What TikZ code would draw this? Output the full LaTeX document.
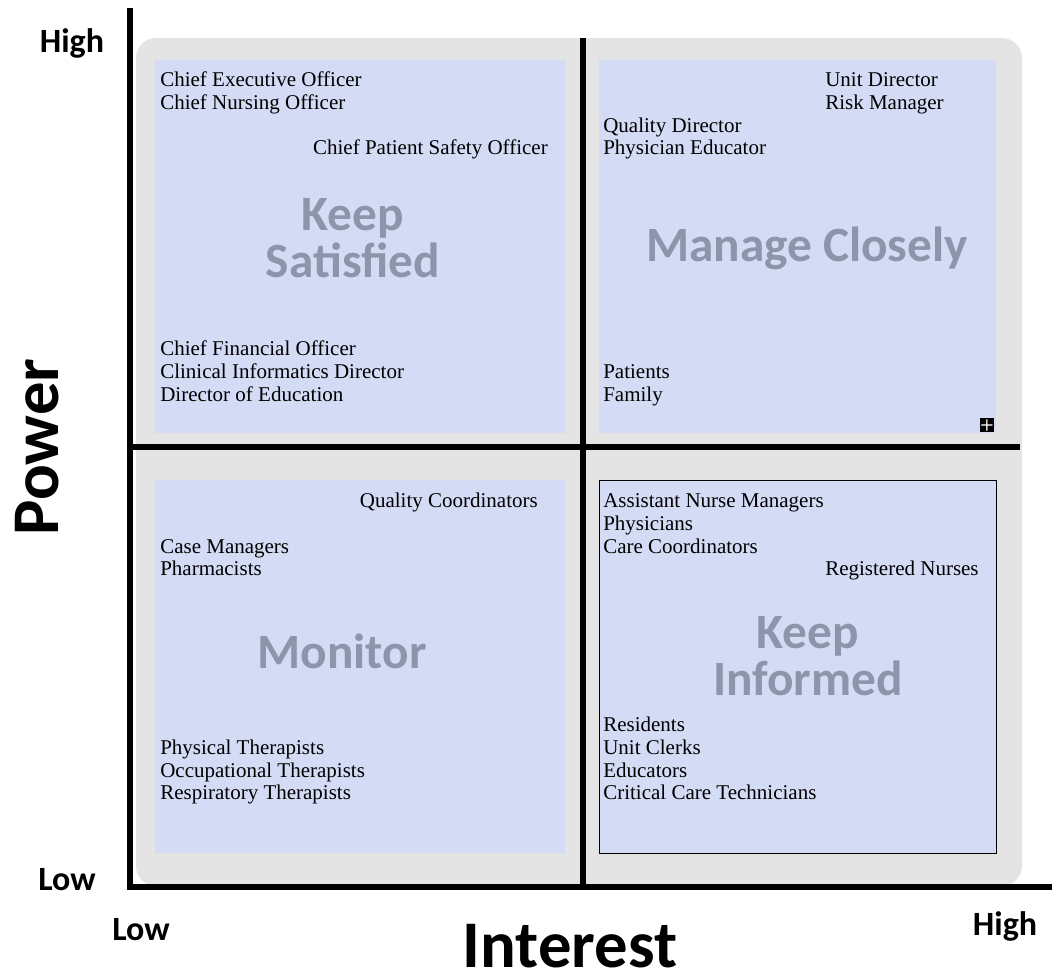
\documentclass[tikz,border=0pt]{standalone}
\usepackage{fontspec}
\setmainfont{Liberation Serif}
\newfontfamily\labelfont{Carlito}
\definecolor{quadblue}{HTML}{D4DBF4}
\definecolor{panelgray}{HTML}{E4E4E4}
\definecolor{taggray}{HTML}{8E95AB}
\tikzset{
  quad/.style={fill=quadblue},
  role/.style={anchor=base west, inner sep=0pt, font=\fontsize{15.75}{17}\selectfont},
  roleright/.style={role, anchor=base east},
  tag/.style={align=center, inner sep=0pt, text=taggray, font=\labelfont\bfseries\fontsize{37}{35}\selectfont},
  level/.style={inner sep=0pt, font=\labelfont\bfseries\fontsize{25.5}{25.5}\selectfont},
  axisname/.style={inner sep=0pt, anchor=base, text depth=0pt, font=\labelfont\bfseries\fontsize{50}{50}\selectfont},
}
\begin{document}
\begin{tikzpicture}[x=0.75pt,y=-0.75pt]
  \useasboundingbox (0,0) rectangle (1052,976);
  \fill[panelgray, rounded corners=15pt] (136,38) rectangle (1022,886);
  \fill[quad] (155,60) rectangle (565,433);
  \fill[quad] (599,60) rectangle (996,433);
  \fill[quad] (155,480) rectangle (565,853);
  \draw[quad, draw=black, line width=0.6pt] (599,480) rectangle (996,853);
  \draw[line width=4.5pt] (583,38) -- (583,886);
  \draw[line width=4.5pt] (130,447) -- (1020,447);
  \draw[line width=4pt] (130,8) -- (130,887) -- (1052,887);
  % keep satisfied
  \node[role] (ceo) at (160,86) {Chief Executive Officer};
  \node[role] (cno) at (160,109) {Chief Nursing Officer};
  \node[roleright] (cpso) at (548,154) {Chief Patient Safety Officer};
  \node[tag] (satisfied) at (353,238) {Keep\\Satisfied};
  \node[role] (cfo) at (160,355) {Chief Financial Officer};
  \node[role] (cid) at (160,378) {Clinical Informatics Director};
  \node[role] (doe) at (160,401) {Director of Education};
  % manage closely
  \node[role] (ud) at (825,86) {Unit Director};
  \node[role] (rm) at (825,109) {Risk Manager};
  \node[role] (qd) at (603,132) {Quality Director};
  \node[role] (pe) at (603,154) {Physician Educator};
  \node[tag] (manage) at (807,248) {Manage Closely};
  \node[role] (pat) at (603,378) {Patients};
  \node[role] (fam) at (603,401) {Family};
  \node[fill=black, text=white, minimum size=11pt, inner sep=0pt, font=\sffamily\bfseries\fontsize{12}{12}\selectfont] (plus) at (987,425) {+};
  % monitor
  \node[roleright] (qc) at (538,507) {Quality Coordinators};
  \node[role] (cm) at (160,553) {Case Managers};
  \node[role] (ph) at (160,575) {Pharmacists};
  \node[tag] (monitor) at (342,651) {Monitor};
  \node[role] (pt) at (160,754) {Physical Therapists};
  \node[role] (ot) at (160,777) {Occupational Therapists};
  \node[role] (rt) at (160,799) {Respiratory Therapists};
  % keep informed
  \node[role] (anm) at (603,507) {Assistant Nurse Managers};
  \node[role] (phy) at (603,530) {Physicians};
  \node[role] (cc) at (603,553) {Care Coordinators};
  \node[role] (rn) at (825,575) {Registered Nurses};
  \node[tag] (informed) at (808,656) {Keep\\Informed};
  \node[role] (res) at (603,731) {Residents};
  \node[role] (uc) at (603,754) {Unit Clerks};
  \node[role] (edu) at (603,777) {Educators};
  \node[role] (cct) at (603,799) {Critical Care Technicians};
  % axes
  \node[level] (powerhigh) at (72,43) {High};
  \node[level] (powerlow) at (67,880) {Low};
  \node[level] (interestlow) at (141,930) {Low};
  \node[level] (interesthigh) at (1005,926) {High};
  \node[axisname, rotate=90] (power) at (58,447) {Power};
  \node[axisname] (interest) at (570,967) {Interest};
\end{tikzpicture}
\end{document}
